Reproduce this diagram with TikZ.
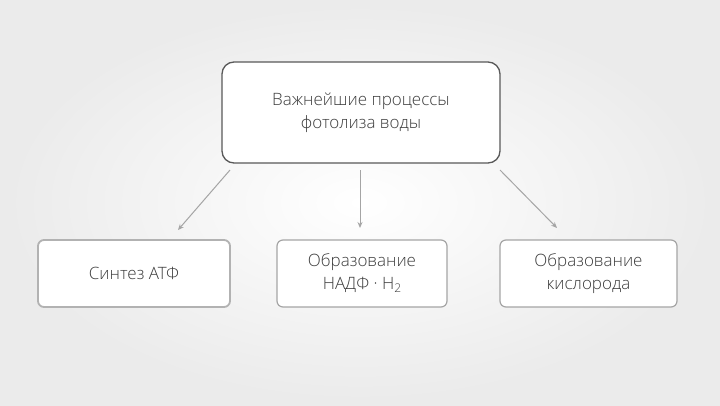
\documentclass[tikz,border=0pt]{standalone}
\usepackage{fontspec}
\setmainfont{Open Sans Light}
\usetikzlibrary{arrows.meta}
\definecolor{txt}{RGB}{60,60,60}
\definecolor{edge}{RGB}{165,165,165}
\tikzset{
 box/.style={draw=edge,line width=1.2pt,fill=white,rounded corners=6pt,align=center,text=txt,font=\fontsize{17}{23}\selectfont,inner sep=0pt},
 conn/.style={draw=edge,line width=1pt,-{Stealth[length=6pt,width=5pt]}}
}
\begin{document}
\begin{tikzpicture}[x=1pt,y=-1pt]
\useasboundingbox (0,0) rectangle (720,405);
\shade[inner color=white,outer color=black!8] (0,0) rectangle (720,405);
\node[box,draw=black!65,line width=1.3pt,rounded corners=12pt,minimum width=278pt,minimum height=101pt] (top) at (361,112.5) {Важнейшие процессы\\фотолиза воды};
\node[box,draw=black!30,line width=1.8pt,minimum width=192pt,minimum height=67pt] (a) at (134,273.5) {Синтез АТФ};
\node[box,minimum width=170pt,minimum height=67pt] (b) at (362,273.5) {Образование\\НАДФ · Н\raisebox{-3pt}{\fontsize{12}{12}\selectfont 2}};
\node[box,minimum width=177pt,minimum height=67pt] (c) at (588.5,273.5) {Образование\\кислорода};
\coordinate (s1) at (230,170);\coordinate (e1) at (178,230);
\coordinate (s2) at (360,170);\coordinate (e2) at (360,228);
\coordinate (s3) at (500,170);\coordinate (e3) at (557,228);
\draw[conn] (s1)--(e1);
\draw[conn] (s2)--(e2);
\draw[conn] (s3)--(e3);
\end{tikzpicture}
\end{document}
